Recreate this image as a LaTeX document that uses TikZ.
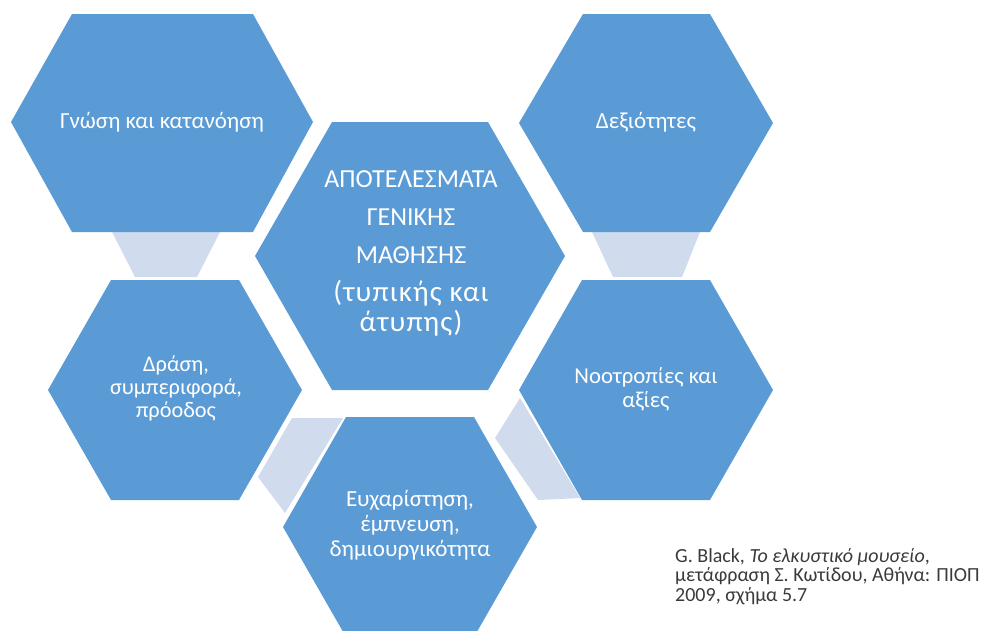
\documentclass[tikz,border=0pt]{standalone}
\usepackage{fontspec}
\setmainfont{Carlito}
\definecolor{hexblue}{HTML}{5B9BD5}
\definecolor{linkfill}{HTML}{D0DBEE}
\definecolor{citegray}{HTML}{3A3A3A}
\newcommand{\widelower}{\fontsize{29}{30}\selectfont\addfontfeature{LetterSpace=4}}
\begin{document}
\begin{tikzpicture}[x=1pt,y=-1pt,
  hexfill/.style={fill=hexblue},
  linkshape/.style={fill=linkfill},
  hextext/.style={text=white,align=center,inner sep=0pt,font=\fontsize{23}{25}\selectfont},
  centertext/.style={text=white,align=center,inner sep=0pt,font=\fontsize{26}{38}\selectfont},
  citetext/.style={text=citegray,align=left,inner sep=0pt,anchor=north west,font=\fontsize{20}{19.5}\selectfont}]
\useasboundingbox (0,0) rectangle (992,630);
\clip (0,0) rectangle (992,630);
% connectors (drawn first, hexagons cover their ends)
\fill[linkshape] (112,232) -- (220,232) -- (197,277) -- (135,277) -- cycle;
\fill[linkshape] (592,232) -- (700,232) -- (682,277) -- (613,277) -- cycle;
\fill[linkshape] (292,418) -- (343,418) -- (285,513) -- (258,477) -- cycle;
\fill[linkshape] (520,398) -- (580,498) -- (538,500) -- (495,438) -- cycle;
% hexagons
\fill[hexfill] (11,122) -- (72,14) -- (253,14) -- (313,122) -- (253,232) -- (72,232) -- cycle;
\fill[hexfill] (519,123) -- (583,14) -- (710,14) -- (773,123) -- (710,232) -- (583,232) -- cycle;
\fill[hexfill] (255,256) -- (332,122) -- (488,122) -- (565,256) -- (488,390) -- (332,390) -- cycle;
\fill[hexfill] (48,390) -- (111,280) -- (239,280) -- (302,390) -- (239,500) -- (111,500) -- cycle;
\fill[hexfill] (519,390) -- (582,280) -- (710,280) -- (773,390) -- (710,500) -- (582,500) -- cycle;
\fill[hexfill] (283,527) -- (346,417) -- (474,417) -- (537,527) -- (474,637) -- (346,637) -- cycle;
% texts
\node[hextext] (knowledge) at (162,122) {Γνώση και κατανόηση};
\node[hextext] (skills) at (646,122) {Δεξιότητες};
\node[centertext] (center) at (411,253) {ΑΠΟΤΕΛΕΣΜΑΤΑ\\ΓΕΝΙΚΗΣ\\ΜΑΘΗΣΗΣ\\{\widelower(τυπικής και}\\[-8pt]{\widelower άτυπης)}};
\node[hextext,font=\fontsize{22.3}{23}\selectfont] (action) at (176,388) {Δράση,\\συμπεριφορά,\\πρόοδος};
\node[hextext,font=\fontsize{22.7}{24}\selectfont] (attitudes) at (646,389) {Νοοτροπίες και\\αξίες};
\node[hextext] (enjoyment) at (410,525) {Ευχαρίστηση,\\έμπνευση,\\δημιουργικότητα};
\node[citetext] (cite) at (675,548) {G. Black, \textit{Το ελκυστικό μουσείο},\\μετάφραση Σ. Κωτίδου, Αθήνα: ΠΙΟΠ\\2009, σχήμα 5.7};
\end{tikzpicture}
\end{document}
